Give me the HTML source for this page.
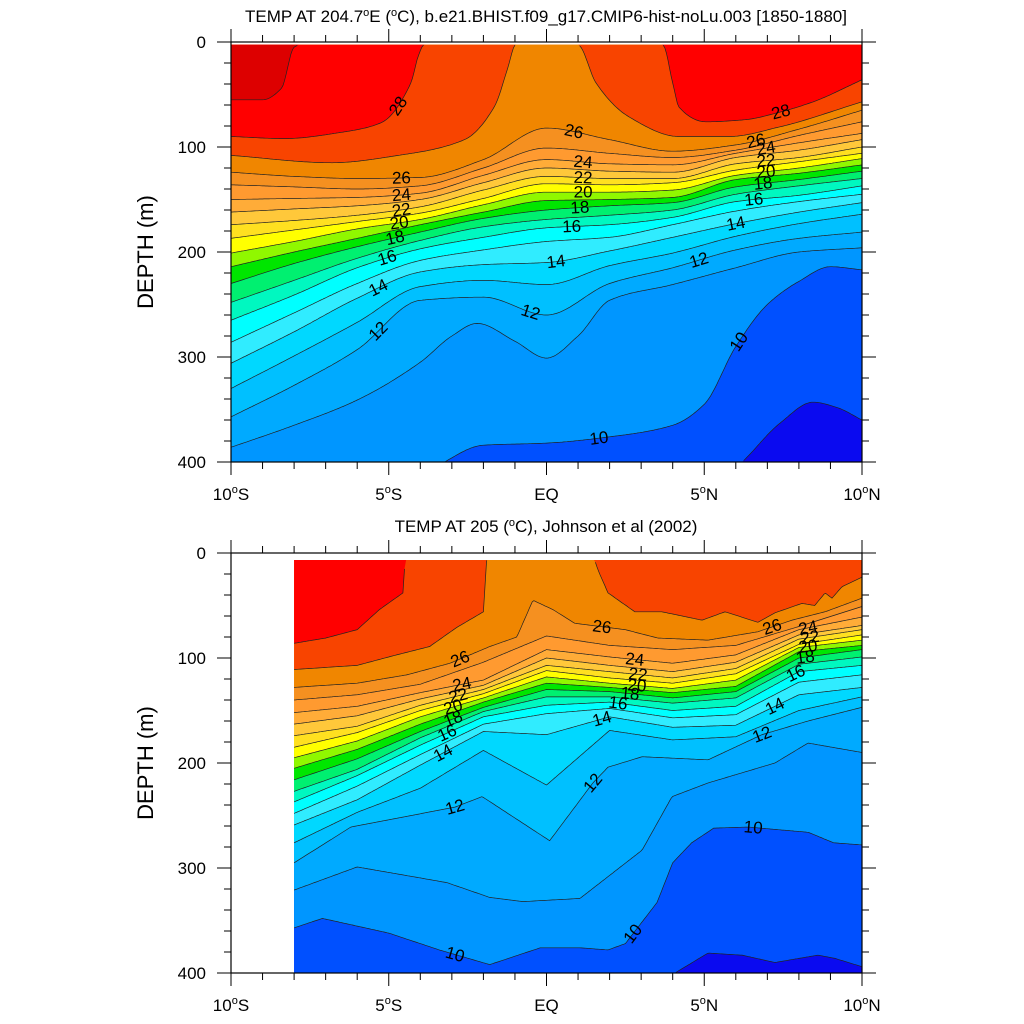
<!DOCTYPE html>
<html><head><meta charset="utf-8"><style>
html,body{margin:0;padding:0;background:#fff;}
svg{display:block;font-family:"Liberation Sans",Arial,sans-serif;}
</style></head><body>
<svg id="chart" width="1024" height="1024" viewBox="0 0 1024 1024" xmlns="http://www.w3.org/2000/svg">
<defs>
<clipPath id="clipTop"><rect x="231" y="42" width="631" height="420"/></clipPath>
<clipPath id="clipBot"><rect x="231" y="553" width="631" height="420"/></clipPath>
</defs>
<g id="top-fill" clip-path="url(#clipTop)"></g>
<g id="top-lines" clip-path="url(#clipTop)"></g>
<g id="top-labels"></g>
<g id="bot-fill" clip-path="url(#clipBot)"></g>
<g id="bot-lines" clip-path="url(#clipBot)"></g>
<g id="bot-labels"></g>
<g id="axes"></g>
<text x="546" y="22" font-size="17" text-anchor="middle">TEMP AT 204.7<tspan dy="-6" font-size="11">o</tspan><tspan dy="6">E (</tspan><tspan dy="-6" font-size="11">o</tspan><tspan dy="6">C), b.e21.BHIST.f09_g17.CMIP6-hist-noLu.003 [1850-1880]</tspan></text>
<text x="546" y="532" font-size="17" text-anchor="middle">TEMP AT 205 (<tspan dy="-6" font-size="11">o</tspan><tspan dy="6">C), Johnson et al (2002)</tspan></text>
<text x="0" y="0" font-size="22" text-anchor="middle" transform="translate(153,252) rotate(-90)">DEPTH (m)</text>
<text x="0" y="0" font-size="22" text-anchor="middle" transform="translate(153,763) rotate(-90)">DEPTH (m)</text>
</svg>
<script>
// ---------- data: isotherm depths (m) ----------
const LAT_T=[-10,-8,-6,-4,-2,0,2,4,6,8,10];
const T29_LAT=[-10,-9,-8.4,-8,-7.5,10];
const T29=[55,55,44,5,0,0];
const T28_LAT=[-10,-8.3,-6.5,-5.25,-4.3,-4.07,-3.9,-3.5,3.4,3.7,4.0,4.2,5.06,6.3,7.37,8.45,10];
const T28=[90,92,86,77,39,14,3,0,0,3,39,62,76,74,67,57,36];
const T27_LAT=[-10,-6.8,-4.7,-2.6,-1.66,-1.22,-1.0,-0.8,0.8,1.03,1.57,2.6,4.2,5.8,7.37,10];
const T27=[108,115,108,93,62,24,3,0,0,3,39,71,90,90,81,57];
const T26=[124,128,130,129,112,82,93,104,98,83,65];
const T25=[136,138,140,137,120,101,106,110,103,89,76];
const T24=[150,149,148,144,127,112,116,117,106,96,87];
const T23=[162,159,156,150,134,120,123,124,110,103,93];
const T22=[174,170,165,157,141,128,130,130,116,110,100];
const T21=[187,179,171,163,149,135,136,134,122,114,106];
const T20=[201,190,178,169,155,143,143,141,127,120,111];
const T19=[214,200,187,174,162,151,150,148,131,125,117];
const T18=[230,211,195,181,168,160,156,153,138,131,123];
const T17=[248,227,206,189,176,169,165,160,145,137,130];
const T16=[265,241,215,197,186,177,174,167,152,146,137];
const T15=[286,258,230,208,198,190,186,174,161,152,145];
const T14=[306,276,244,219,212,210,199,186,173,162,153];
const T13=[330,299,267,233,227,231,213,201,185,173,164];
const T12=[357,327,293,246,243,260,230,215,198,187,181];
const T11_LAT=[-10,-8,-6,-4,-3,-2.2,-1,0,1,2,4,6,8,10];
const T11=[386,365,341,305,280,268,285,301,280,246,231,215,200,196];
const T10_LAT=[-10,-4,-2,0,2,4,5,6,7,8,9,10];
const T10=[430,410,384,382,376,365,345,290,250,228,214,217];
const T9_LAT=[-10,5,6.2,7.4,8.45,9.2,10];
const T9=[430,430,400,363,343,348,360];

const LAT_B=[-8,-6,-4,-2,0,2,4,6,8,10];
const B28_LAT=[-8,-7,-6,-5.3,-4.55,-4.48,-4.3,10];
const B28=[86,81,73,54,38,6,0,0];
const B27_LAT=[-8,-6,-5,-3.7,-2.85,-2.0,-1.9,-1.7,1.45,1.63,1.95,2.8,3.66,4.93,5.66,6.7,7.24,8.1,8.5,8.83,9.05,9.37,10];
const B27=[111,107,99,89,71,56,7,0,0,16,38,56,56,64,56,66,57,48,50,38,43,32,23];
const B26_LAT=[-8,-6,-4.42,-3.06,-1.79,-0.94,-0.43,0.21,0.9,2.49,3.53,5.12,6.7,7.78,8.83,10];
const B26=[128,124,116,105,89,80,45,54,67,73,81,83,75,64,56,43];
const B25=[140,135,125,104,79,88,92,88,70,51];
const B24=[152,146,133,121,92,99,105,97,73,61];
const B23=[163,155,139,126,100,107,113,104,78,69];
const B22=[174,165,145,130,107,113,119,110,82,73];
const B21=[185,171,150,134,112,119,124,115,87,78];
const B20=[195,179,156,138,118,124,129,121,90,83];
const B19=[205,187,163,142,124,128,133,127,94,88];
const B18=[216,196,170,147,130,132,138,132,100,92];
const B17=[227,206,176,151,137,137,143,138,106,99];
const B16=[237,212,183,156,145,142,150,146,113,107];
const B15=[248,222,192,163,153,148,157,154,123,116];
const B14=[259,235,202,170,173,156,166,164,135,128];
const B13=[276,247,224,188,221,169,178,175,150,137];
const B12_LAT=[-8,-6.2,-2.9,-2.04,0.1,1.47,1.95,3.03,5.12,6.83,8.29,10];
const B12=[295,261,242,232,274,219,204,194,197,173,160,147];
const B11_LAT=[-8,-6,-3.9,-3.15,-1.8,-0.75,1.06,3.03,3.98,5.12,7.24,8.29,10];
const B11=[321,299,310,314,328,332,329,283,232,219,200,181,190];
const B10_LAT=[-8,-7.1,-5,-3.4,-1.8,-0.2,1.06,1.95,2.5,3.5,4.0,4.6,5.3,6.4,8.3,9.1,10];
const B10=[357,348,362,378,392,376,376,378,372,333,295,276,262,261,266,276,278];
const B9_LAT=[-8,3.9,4.07,5.12,6.2,7.24,8.6,9.14,10];
const B9=[420,420,400,381,383,390,383,386,394];

// label positions: level and latitude
const TOP_LABEL_LEVELS=[28,28,26,26,26,24,24,24,22,22,22,20,20,20,18,18,18,16,16,16,14,14,14,12,12,12,10,10];
const TOP_LABEL_LATS=[-4.7,7.43,-4.6,0.87,6.64,-4.6,1.16,6.96,-4.6,1.16,6.96,-4.67,1.16,6.96,-4.8,1.06,6.86,-5.05,0.8,6.57,-5.33,0.3,6.0,-5.33,-0.5,4.83,1.66,6.1];
const BOT_LABEL_LEVELS=[26,26,26,24,24,24,22,22,22,20,20,20,18,18,18,16,16,16,14,14,14,12,12,12,10,10,10];
const BOT_LABEL_LATS=[-2.74,1.76,7.15,-2.68,2.8,8.29,-2.8,2.9,8.35,-2.96,2.87,8.29,-2.96,2.65,8.2,-3.15,2.27,7.9,-3.28,1.76,7.24,-2.9,1.47,6.83,-2.9,2.74,6.55];

// band colours: index = lower level - 8
const BAND_COLORS=["#0a0af0","#0050ff","#0096ff","#00aaff","#00c0ff","#00d8ff","#30ecff","#00ffff","#00f8c0","#00f070","#00e600","#90f800","#ffff00","#ffe020","#ffc83a","#ffac38","#ff9a30","#f59020","#f08600","#f84400","#ff0000","#dd0000"];

// ---------- helpers ----------
const NS="http://www.w3.org/2000/svg";
const xOf=lat=>231+(lat+10)*31.55;
const yTop=d=>42+d*1.05;
const yBot=d=>553+d*1.05;

function pchip(xs,ys,x){
  const n=xs.length;
  if(x<=xs[0])return ys[0];
  if(x>=xs[n-1])return ys[n-1];
  let i=0;while(i<n-2&&x>xs[i+1])i++;
  const h=[],dl=[];
  for(let k=0;k<n-1;k++){h.push(xs[k+1]-xs[k]);dl.push((ys[k+1]-ys[k])/h[k]);}
  function m(k){
    if(k===0)return dl[0];
    if(k===n-1)return dl[n-2];
    if(dl[k-1]*dl[k]<=0)return 0;
    const w1=2*h[k]+h[k-1],w2=h[k]+2*h[k-1];
    return (w1+w2)/(w1/dl[k-1]+w2/dl[k]);
  }
  const t=(x-xs[i])/h[i],t2=t*t,t3=t2*t;
  return (2*t3-3*t2+1)*ys[i]+(t3-2*t2+t)*h[i]*m(i)+(-2*t3+3*t2)*ys[i+1]+(t3-t2)*h[i]*m(i+1);
}
function linear(xs,ys,x){
  const n=xs.length;
  if(x<=xs[0])return ys[0];
  if(x>=xs[n-1])return ys[n-1];
  let i=0;while(i<n-2&&x>xs[i+1])i++;
  const t=(x-xs[i])/(xs[i+1]-xs[i]);
  return ys[i]+t*(ys[i+1]-ys[i]);
}

function drawPanel(cfg){
  const fillG=document.getElementById(cfg.fill),lineG=document.getElementById(cfg.lines),labG=document.getElementById(cfg.labels);
  const f=cfg.smooth?pchip:linear;
  const step=0.05;
  const lats=[];for(let l=cfg.latMin;l<=10.0001;l+=step)lats.push(Math.min(l,10));
  const bg=document.createElementNS(NS,"rect");
  bg.setAttribute("x",xOf(cfg.latMin));bg.setAttribute("y",cfg.yf(cfg.topD));
  bg.setAttribute("width",xOf(10)-xOf(cfg.latMin));bg.setAttribute("height",cfg.yf(400)-cfg.yf(cfg.topD));
  bg.setAttribute("fill",BAND_COLORS[0]);
  
  
  fillG.appendChild(bg);
  const sorted=cfg.levels.slice().sort((a,b)=>a.lv-b.lv);
  sorted.forEach(L=>{
    const dep=lats.map(la=>Math.max(cfg.topD,Math.min(400,f(L.lat,L.d,la))));
    let pts=[];
    lats.forEach(la=>pts.push(xOf(la).toFixed(1)+","+cfg.yf(cfg.topD).toFixed(1)));
    for(let k=lats.length-1;k>=0;k--)pts.push(xOf(lats[k]).toFixed(1)+","+cfg.yf(dep[k]).toFixed(1));
    const pg=document.createElementNS(NS,"polygon");
    pg.setAttribute("points",pts.join(" "));
    pg.setAttribute("fill",BAND_COLORS[L.lv-8]);
    
    
    fillG.appendChild(pg);
    let d="",pen=false;
    lats.forEach(la=>{
      const v=f(L.lat,L.d,la);
      if(v>cfg.topD+0.3&&v<400){
        d+=(pen?"L":"M")+xOf(la).toFixed(1)+" "+cfg.yf(v).toFixed(1);pen=true;
      }else pen=false;
    });
    if(d){
      const p=document.createElementNS(NS,"path");
      p.setAttribute("d",d);p.setAttribute("fill","none");p.setAttribute("stroke","#222");p.setAttribute("stroke-width","0.7");
      
      
      lineG.appendChild(p);
    }
  });
  cfg.labLevels.forEach((lv,i)=>{
    const L=cfg.levels.find(o=>o.lv===lv);if(!L)return;
    const la=cfg.labLats[i];
    const x=xOf(la),y=cfg.yf(f(L.lat,L.d,la));
    const x2=xOf(la+0.15),y2=cfg.yf(f(L.lat,L.d,la+0.15));
    const x1=xOf(la-0.15),y1=cfg.yf(f(L.lat,L.d,la-0.15));
    let ang=Math.atan2(y2-y1,x2-x1)*180/Math.PI;
    if(ang>70)ang=70;if(ang<-70)ang=-70;
    const t=document.createElementNS(NS,"text");
    t.setAttribute("x",x.toFixed(1));t.setAttribute("y",y.toFixed(1));
    t.setAttribute("font-size","17");t.setAttribute("text-anchor","middle");t.setAttribute("dominant-baseline","central");
    t.setAttribute("transform","rotate("+ang.toFixed(1)+" "+x.toFixed(1)+" "+y.toFixed(1)+")");
    t.textContent=String(lv);
    
    
    labG.appendChild(t);
  });
}

const topLevels=[
 {lv:29,lat:T29_LAT,d:T29},{lv:28,lat:T28_LAT,d:T28},{lv:27,lat:T27_LAT,d:T27},
 {lv:26,lat:LAT_T,d:T26},{lv:25,lat:LAT_T,d:T25},{lv:24,lat:LAT_T,d:T24},{lv:23,lat:LAT_T,d:T23},
 {lv:22,lat:LAT_T,d:T22},{lv:21,lat:LAT_T,d:T21},{lv:20,lat:LAT_T,d:T20},{lv:19,lat:LAT_T,d:T19},
 {lv:18,lat:LAT_T,d:T18},{lv:17,lat:LAT_T,d:T17},{lv:16,lat:LAT_T,d:T16},{lv:15,lat:LAT_T,d:T15},
 {lv:14,lat:LAT_T,d:T14},{lv:13,lat:LAT_T,d:T13},{lv:12,lat:LAT_T,d:T12},{lv:11,lat:T11_LAT,d:T11},
 {lv:10,lat:T10_LAT,d:T10},{lv:9,lat:T9_LAT,d:T9}];
const botLevels=[
 {lv:28,lat:B28_LAT,d:B28},{lv:27,lat:B27_LAT,d:B27},{lv:26,lat:B26_LAT,d:B26},
 {lv:25,lat:LAT_B,d:B25},{lv:24,lat:LAT_B,d:B24},{lv:23,lat:LAT_B,d:B23},{lv:22,lat:LAT_B,d:B22},
 {lv:21,lat:LAT_B,d:B21},{lv:20,lat:LAT_B,d:B20},{lv:19,lat:LAT_B,d:B19},{lv:18,lat:LAT_B,d:B18},
 {lv:17,lat:LAT_B,d:B17},{lv:16,lat:LAT_B,d:B16},{lv:15,lat:LAT_B,d:B15},{lv:14,lat:LAT_B,d:B14},
 {lv:13,lat:LAT_B,d:B13},{lv:12,lat:B12_LAT,d:B12},{lv:11,lat:B11_LAT,d:B11},
 {lv:10,lat:B10_LAT,d:B10},{lv:9,lat:B9_LAT,d:B9}];

drawPanel({fill:"top-fill",lines:"top-lines",labels:"top-labels",yf:yTop,topD:2.6,latMin:-10,smooth:true,levels:topLevels,labLevels:TOP_LABEL_LEVELS,labLats:TOP_LABEL_LATS});
drawPanel({fill:"bot-fill",lines:"bot-lines",labels:"bot-labels",yf:yBot,topD:6.7,latMin:-8,smooth:false,levels:botLevels,labLevels:BOT_LABEL_LEVELS,labLats:BOT_LABEL_LATS});

// ---------- axes ----------
const X_TICK_LATS=[-10,-5,0,5,10];
const X_TICK_TEXT=[["10","S"],["5","S"],["EQ",""],["5","N"],["10","N"]];
const Y_TICKS=[0,100,200,300,400];
const ax=document.getElementById("axes");
function line(x1,y1,x2,y2,name){
  const l=document.createElementNS(NS,"line");
  l.setAttribute("x1",x1);l.setAttribute("y1",y1);l.setAttribute("x2",x2);l.setAttribute("y2",y2);
  l.setAttribute("stroke","#000");l.setAttribute("stroke-width","1");
  
  
  ax.appendChild(l);
}
[{yf:yTop,y0:42,y1:462,p:"top"},{yf:yBot,y0:553,y1:973,p:"bottom"}].forEach(P=>{
  const r=document.createElementNS(NS,"rect");
  r.setAttribute("x",231);r.setAttribute("y",P.y0);r.setAttribute("width",631);r.setAttribute("height",420);
  r.setAttribute("fill","none");r.setAttribute("stroke","#000");r.setAttribute("stroke-width","1.2");
  
  
  ax.appendChild(r);
  for(let la=-10;la<=10;la++){
    const major=la%5===0,len=major?13:7,x=xOf(la);
    line(x,P.y1,x,P.y1+len,P.p+'-x-tick');
    line(x,P.y0,x,P.y0-len,P.p+'-x-tick-top');
  }
  for(let d=0;d<=400;d+=20){
    const major=d%100===0,len=major?14:7,y=P.yf(d);
    line(231,y,231-len,y,P.p+'-y-tick');
    line(862,y,862+len,y,P.p+'-y-tick-right');
  }
  Y_TICKS.forEach(v=>{
    const t=document.createElementNS(NS,"text");
    t.setAttribute("x",206);t.setAttribute("y",P.yf(v)+6);t.setAttribute("font-size","17");t.setAttribute("text-anchor","end");
    t.textContent=String(v);
    
    
    ax.appendChild(t);
  });
  X_TICK_LATS.forEach((la,i)=>{
    const t=document.createElementNS(NS,"text");
    t.setAttribute("x",xOf(la));t.setAttribute("y",P.y1+38);t.setAttribute("font-size","17");t.setAttribute("text-anchor","middle");
    const [a,b]=X_TICK_TEXT[i];
    if(b){
      t.appendChild(document.createTextNode(a));
      const s=document.createElementNS(NS,"tspan");s.setAttribute("dy","-7");s.setAttribute("font-size","11");s.textContent="o";t.appendChild(s);
      const s2=document.createElementNS(NS,"tspan");s2.setAttribute("dy","7");s2.textContent=b;t.appendChild(s2);
    }else t.textContent=a;
    
    
    ax.appendChild(t);
  });
});
</script>
</body></html>
